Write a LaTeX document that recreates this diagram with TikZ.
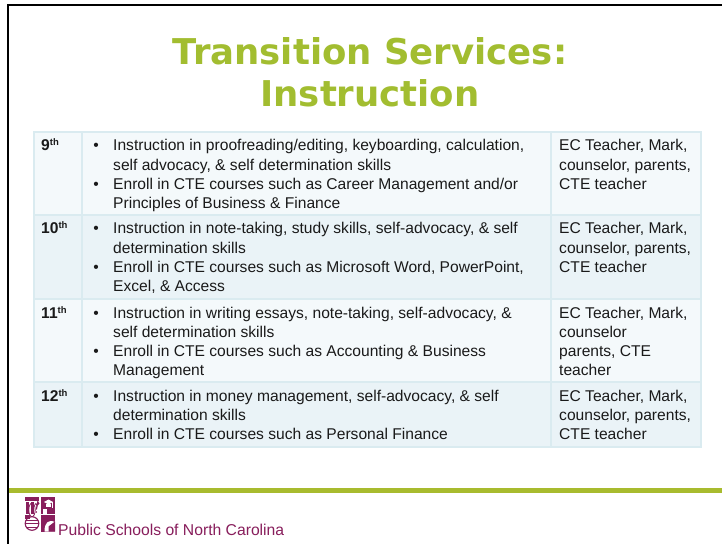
\documentclass[tikz,border=0pt]{standalone}
\usepackage{fontspec}
\setmainfont{Liberation Sans}
\newfontfamily\titlefont{DejaVu Sans}
\definecolor{titlegreen}{RGB}{162,189,48}
\definecolor{linegreen}{RGB}{168,187,46}
\definecolor{rowA}{RGB}{244,249,251}
\definecolor{rowB}{RGB}{234,243,247}
\definecolor{gridc}{RGB}{218,235,240}
\definecolor{txtc}{RGB}{26,26,26}
\definecolor{maroon}{RGB}{136,30,92}
\newcommand{\gr}[2]{\textbf{#1\raisebox{5bp}{\fontsize{9.5bp}{10bp}\selectfont #2}}}
\begin{document}
\begin{tikzpicture}[x=1bp,y=-1bp,
  txt/.style={inner sep=0pt, anchor=base west, align=left, text=txtc,
    font=\fontsize{15.6bp}{19.2bp}\selectfont},
  bul/.style={inner sep=0pt, anchor=base, text=txtc,
    font=\fontsize{15.6bp}{19.2bp}\selectfont},
  gridline/.style={draw=gridc, line width=1.6bp},
  titletxt/.style={inner sep=0pt, anchor=base, align=center, text=titlegreen,
    font=\titlefont\bfseries\fontsize{35.5bp}{42bp}\selectfont}]
\useasboundingbox (0,0) rectangle (722,544);
\fill[white] (0,0) rectangle (722,544);
% frame
\draw[line width=2.6bp, line join=miter] (8,545) -- (8,5) -- (723,5);
% title (anchor = baseline of last line)
\node[titletxt] (title) at (370,107) {Transition Services:\\Instruction};
% table backgrounds
\fill[rowA] (34,132) rectangle (701,215);
\fill[rowB] (34,215) rectangle (701,299);
\fill[rowA] (34,299) rectangle (701,382);
\fill[rowB] (34,382) rectangle (701,447);
% grid
\draw[gridline] (34,132) rectangle (701,447);
\draw[gridline] (34,215) -- (701,215);
\draw[gridline] (34,299) -- (701,299);
\draw[gridline] (34,382) -- (701,382);
\draw[gridline] (82,132) -- (82,447);
\draw[gridline] (551,132) -- (551,447);
% row 9 (multi-line nodes anchored at the baseline of their last line)
\node[txt] (g9) at (41,151) {\gr{9}{th}};
\node[bul] (b9a) at (96,151) {•};
\node[txt] (t9a) at (113,170.2) {Instruction in proofreading/editing, keyboarding, calculation,\\self advocacy, \& self determination skills};
\node[bul] (b9b) at (96,189.4) {•};
\node[txt] (t9b) at (113,208.6) {Enroll in CTE courses such as Career Management and/or\\Principles of Business \& Finance};
\node[txt] (r9) at (559,189.4) {EC Teacher, Mark,\\counselor, parents,\\CTE teacher};
% row 10
\node[txt] (g10) at (41,234) {\gr{10}{th}};
\node[bul] (b10a) at (96,234) {•};
\node[txt] (t10a) at (113,253.2) {Instruction in note-taking, study skills, self-advocacy, \& self\\determination skills};
\node[bul] (b10b) at (96,272.4) {•};
\node[txt] (t10b) at (113,291.6) {Enroll in CTE courses such as Microsoft Word, PowerPoint,\\Excel, \& Access};
\node[txt] (r10) at (559,272.4) {EC Teacher, Mark,\\counselor, parents,\\CTE teacher};
% row 11
\node[txt] (g11) at (41,318) {\gr{11}{th}};
\node[bul] (b11a) at (96,318) {•};
\node[txt] (t11a) at (113,337.2) {Instruction in writing essays, note-taking, self-advocacy, \&\\self determination skills};
\node[bul] (b11b) at (96,356.4) {•};
\node[txt] (t11b) at (113,375.6) {Enroll in CTE courses such as Accounting \& Business\\Management};
\node[txt] (r11) at (559,375.6) {EC Teacher, Mark,\\counselor\\parents, CTE\\teacher};
% row 12
\node[txt] (g12) at (41,401) {\gr{12}{th}};
\node[bul] (b12a) at (96,401) {•};
\node[txt] (t12a) at (113,420.2) {Instruction in money management, self-advocacy, \& self\\determination skills};
\node[bul] (b12b) at (96,439.4) {•};
\node[txt] (t12b) at (113,439.4) {Enroll in CTE courses such as Personal Finance};
\node[txt] (r12) at (559,439.4) {EC Teacher, Mark,\\counselor, parents,\\CTE teacher};
% footer line
\fill[linegreen] (9.3,488) rectangle (722,493);
% logo
\begin{scope}[maroon]
  % top-left: pillars
  \fill (25,497) rectangle (39,500.5);
  \fill (26.3,502) rectangle (29,513.5);
  \fill (31.3,502) rectangle (34,513.5);
  \draw[line width=1.3bp] (35.3,503.5) arc (180:-60:1.7) -- (36.3,509.5);
  \fill (36.2,512) circle (0.9);
  % top-right: board with cap
  \fill (40.5,497) rectangle (55,513.5);
  \fill[white] (44,502) -- (48.5,499.5) -- (53,502) -- (48.5,504.5) -- cycle;
  \fill[white] (45.8,503.5) rectangle (51.2,506.5);
  \draw[white, line width=0.8bp] (52.5,502) -- (52.5,507.5);
  \fill[white] (42.5,508.5) rectangle (46.5,513.5);
  % bottom-left: globe
  \draw[line width=1.1bp] (32,523.5) circle (6.8);
  \draw[line width=0.8bp] (32,516.7) arc (90:270:3.2 and 6.8);
  \draw[line width=0.8bp] (32,516.7) arc (90:-90:3.2 and 6.8);
  \draw[line width=0.8bp] (25.2,523.5) -- (38.8,523.5);
  \draw[line width=0.8bp] (26.2,520) -- (37.8,520);
  \draw[line width=0.8bp] (26.2,527) -- (37.8,527);
  \fill (25,515) rectangle (29.5,518.5);
  % bottom-right: dome shape
  \fill (40.5,515) rectangle (55,531.5);
  \fill[white] (55,531.5) -- (55,522) .. controls (48,519) and (44.5,523) .. (44.5,531.5) -- cycle;
  \fill (48.5,526.5) -- (55,521.5) -- (55,531.5) -- (48.5,531.5) -- cycle;
\end{scope}
\node[inner sep=0pt, anchor=base west, text=maroon,
  font=\fontsize{15.7bp}{18bp}\selectfont] (footer) at (58,535) {Public Schools of North Carolina};
\end{tikzpicture}
\end{document}
